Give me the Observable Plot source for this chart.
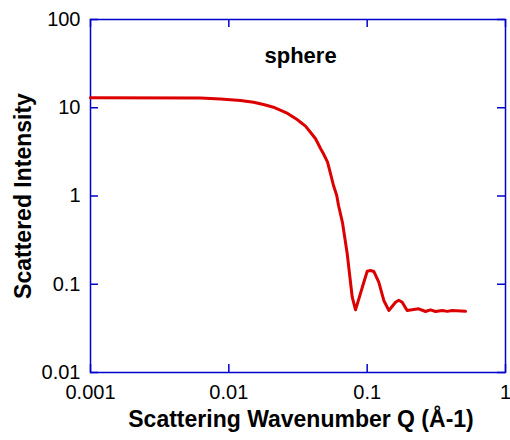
<!DOCTYPE html>
<html>
<head>
<meta charset="utf-8">
<script src="https://cdn.jsdelivr.net/npm/d3@7"></script>
<script src="https://cdn.jsdelivr.net/npm/@observablehq/plot@0.6"></script>
<style>
  html, body { margin: 0; padding: 0; background: #fff; }
  #chart svg { display: block; }
</style>
</head>
<body>
<div id="chart"></div>
<script>
// Data
const qValues = [0.001, 0.00624, 0.0087, 0.01214, 0.0151, 0.01781, 0.021, 0.0266, 0.03137, 0.033, 0.03583, 0.0389, 0.04236, 0.046, 0.04832, 0.0517, 0.05433, 0.0571, 0.06026, 0.0621, 0.0663, 0.0717, 0.078, 0.0824, 0.0946, 0.1001, 0.1057, 0.1117, 0.1213, 0.1319, 0.1434, 0.1603, 0.1693, 0.1792, 0.1945, 0.236, 0.264, 0.287, 0.312, 0.349, 0.379, 0.412, 0.514];
const intensity = [13.0, 12.9, 12.6, 12.09, 11.55, 10.89, 10.14, 8.61, 7.3, 6.86, 6.2, 5.28, 4.45, 3.45, 3.01, 2.42, 1.79, 1.315, 1.014, 0.78, 0.50, 0.223, 0.0713, 0.0513, 0.1055, 0.1406, 0.1432, 0.1395, 0.1055, 0.0655, 0.0505, 0.0626, 0.066, 0.0626, 0.0505, 0.0527, 0.0491, 0.0513, 0.0491, 0.0505, 0.0493, 0.0505, 0.0493];
const xTicks = [0.001, 0.01, 0.1, 1];
const xTickLabels = ["0.001", "0.01", "0.1", "1"];
const yTicks = [0.01, 0.1, 1, 10, 100];
const yTickLabels = ["0.01", "0.1", "1", "10", "100"];
const xTitle = "Scattering Wavenumber Q (Å-1)";
const yTitle = "Scattered Intensity";
const annotationText = ["sphere"];
const annotationQ = [0.033];
const annotationI = [39];

const data = qValues.map((q, i) => ({q, I: intensity[i]}));
const annot = annotationText.map((t, i) => ({t, q: annotationQ[i], I: annotationI[i]}));

const W = 510, H = 440;
const M = {top: 19, right: 5, bottom: 68, left: 90};
const innerW = W - M.left - M.right;
const innerH = H - M.top - M.bottom;
const tickLen = 8;
const frameColor = "#0000cc";
const font = "Arial, 'Liberation Sans', Helvetica, sans-serif";

const chart = Plot.plot({
  width: W,
  height: H,
  marginTop: M.top,
  marginRight: M.right,
  marginBottom: M.bottom,
  marginLeft: M.left,
  style: {fontFamily: font, background: "#fff", color: "#000"},
  x: {type: "log", domain: [0.001, 1]},
  y: {type: "log", domain: [0.01, 100]},
  marks: [
    Plot.frame({stroke: frameColor, strokeWidth: 1.5}),
    // inward ticks on all four sides
    Plot.tickX(xTicks, {x: d => d, stroke: frameColor, strokeWidth: 1.5, insetTop: innerH - tickLen}),
    Plot.tickX(xTicks, {x: d => d, stroke: frameColor, strokeWidth: 1.5, insetBottom: innerH - tickLen}),
    Plot.tickY(yTicks, {y: d => d, stroke: frameColor, strokeWidth: 1.5, insetRight: innerW - tickLen}),
    Plot.tickY(yTicks, {y: d => d, stroke: frameColor, strokeWidth: 1.5, insetLeft: innerW - tickLen}),
    Plot.axisX({ticks: xTicks, tickFormat: d => xTickLabels[xTicks.indexOf(d)], tickSize: 0, tickPadding: 12, fontSize: 20, label: null}),
    Plot.axisY({ticks: yTicks, tickFormat: d => yTickLabels[yTicks.indexOf(d)], tickSize: 0, tickPadding: 10, fontSize: 20, label: null}),
    Plot.line(data, {x: "q", y: "I", stroke: "#dd0000", strokeWidth: 3, strokeLinejoin: "round"}),
    Plot.text(annot, {x: "q", y: "I", text: "t", fontSize: 22, fontWeight: "bold", fill: "#000"}),
    Plot.text([xTitle], {frameAnchor: "bottom", text: d => d, textAnchor: "middle", dy: 54, dx: 3, fontSize: 23, fontWeight: "bold", fill: "#000"}),
    Plot.text([yTitle], {frameAnchor: "left", text: d => d, textAnchor: "middle", dx: -67, dy: 0, rotate: -90, fontSize: 23, fontWeight: "bold", fill: "#000"})
  ]
});
document.getElementById("chart").appendChild(chart);
</script>
</body>
</html>
